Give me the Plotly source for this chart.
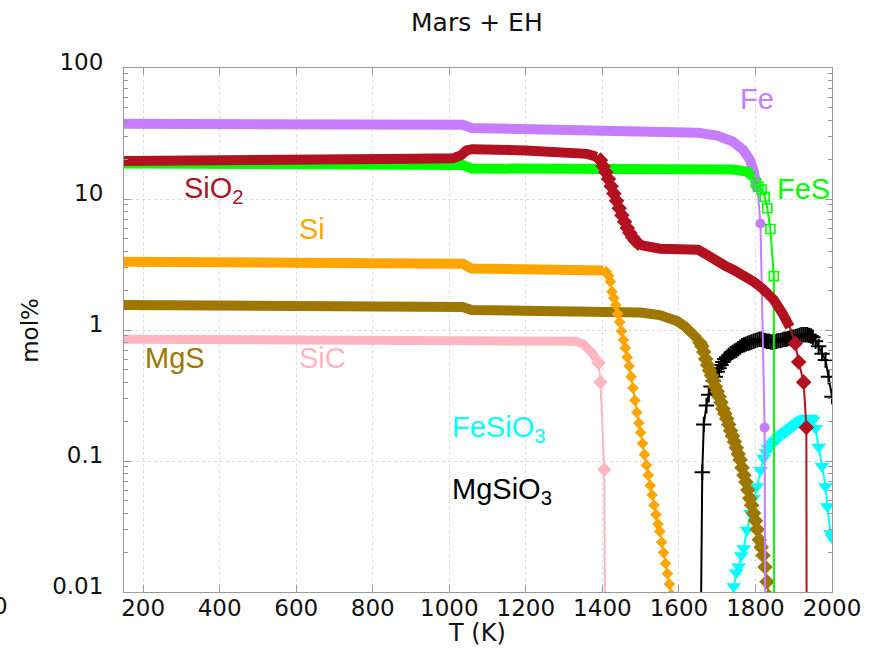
import plotly.graph_objects as go

# ---------------- data (T in K, amounts in mol%) ----------------
fe_T = [150, 890, 905, 1035, 1058, 1300, 1500, 1600, 1650, 1700, 1740, 1768, 1785, 1795, 1801, 1806, 1813, 1824, 1826]
fe_mol = [37.5, 37.5, 36.8, 36.8, 34.8, 34.2, 33.6, 32.8, 32.0, 30.5, 27.5, 23.7, 20.0, 16.5, 13.5, 11.4, 6.5, 0.18, 0.001]

fes_T = [150, 890, 905, 1035, 1058, 1300, 1500, 1600, 1700, 1740, 1778, 1792, 1801, 1808, 1816, 1824, 1831, 1839, 1848, 1849]
fes_mol = [18.7, 18.7, 18.2, 18.2, 17.1, 17.0, 16.9, 17.5, 17.3, 16.8, 16.2, 14.8, 13.3, 12.4, 11.8, 10.4, 8.5, 5.9, 2.58, 0.001]

sio2_T = [150, 890, 905, 1010, 1030, 1045, 1060, 1200, 1272, 1360, 1385,
          1395, 1402, 1409, 1416, 1423, 1430, 1437, 1444, 1451, 1458, 1465, 1472, 1479, 1486, 1493,
          1500, 1525, 1550, 1600, 1650, 1670, 1691, 1720, 1743, 1770, 1795, 1820, 1848, 1870, 1890,
          1904, 1913, 1926, 1933, 1934]
sio2_mol = [19.5, 19.5, 20.3, 20.5, 21.5, 23.5, 24.0, 23.5, 23.0, 22.1, 21.0,
            19.8, 17.8, 16.0, 14.2, 12.5, 11.0, 9.7, 8.5, 7.5, 6.7, 6.0, 5.5, 5.1, 4.8, 4.6,
            4.45, 4.3, 4.17, 4.13, 4.10, 3.8, 3.42, 3.1, 2.87, 2.6, 2.34, 2.05, 1.70, 1.35, 1.05,
            0.79, 0.57, 0.40, 0.18, 0.001]

si_T = [150, 890, 905, 1035, 1058, 1300, 1390, 1403,
        1410, 1416, 1421, 1425, 1430, 1435, 1440, 1445, 1450, 1455, 1460, 1465, 1470, 1475, 1480,
        1485, 1490, 1495, 1500, 1505, 1510, 1515, 1520, 1525, 1530, 1535, 1540, 1545, 1550, 1555,
        1560, 1565, 1570, 1575, 1580]
si_mol = [3.32, 3.32, 3.22, 3.20, 2.95, 2.93, 2.90, 2.85,
          2.79, 2.60, 2.34, 1.96, 1.75, 1.55, 1.33, 1.15, 0.98, 0.84, 0.73, 0.62, 0.53, 0.44, 0.36,
          0.29, 0.235, 0.195, 0.165, 0.136, 0.112, 0.093, 0.078, 0.065, 0.055, 0.046, 0.039, 0.033, 0.029, 0.024,
          0.020, 0.0165, 0.0138, 0.0115, 0.0096]

mgs_T = [150, 890, 905, 1035, 1058, 1400, 1450, 1500, 1550, 1575, 1595, 1615, 1630, 1640, 1650,
         1655, 1660, 1665, 1670, 1675, 1680, 1685, 1690, 1695, 1700, 1705, 1710, 1715, 1720, 1725,
         1730, 1735, 1740, 1745, 1750, 1755, 1760, 1765, 1770, 1775, 1780, 1785, 1790, 1795, 1800,
         1805, 1810, 1815, 1820, 1825, 1830, 1835]
mgs_mol = [1.55, 1.55, 1.52, 1.50, 1.42, 1.40, 1.38, 1.36, 1.30, 1.24, 1.17, 1.07, 0.98, 0.92, 0.85,
           0.80, 0.75, 0.68, 0.60, 0.54, 0.49, 0.45, 0.41, 0.37, 0.34, 0.31, 0.28, 0.25, 0.23, 0.21,
           0.19, 0.17, 0.155, 0.14, 0.126, 0.113, 0.102, 0.089, 0.078, 0.069, 0.060, 0.052, 0.046, 0.040, 0.035,
           0.030, 0.025, 0.022, 0.019, 0.0155, 0.0120, 0.0092]

sic_T = [150, 1300, 1330, 1350, 1365, 1375, 1383, 1390, 1395, 1405, 1408]
sic_mol = [0.85, 0.84, 0.82, 0.78, 0.72, 0.66, 0.60, 0.56, 0.40, 0.086, 0.001]

mgsio3_T = [1655, 1661, 1665, 1672, 1678, 1684, 1690, 1695, 1700, 1705, 1710, 1715, 1720, 1725,
            1730, 1735, 1740, 1745, 1750, 1755, 1760, 1765, 1770, 1775, 1780, 1785, 1790, 1795,
            1800, 1805, 1810, 1815, 1820, 1825, 1830, 1835, 1840, 1845, 1850, 1855, 1860, 1865,
            1870, 1875, 1880, 1885, 1890, 1895, 1900, 1905, 1910, 1915, 1920, 1925, 1930, 1935,
            1940, 1945, 1950, 1957, 1965, 1974, 1983, 1991, 2000]
mgsio3_mol = [0.001, 0.082, 0.19, 0.265, 0.32, 0.37, 0.41, 0.44, 0.48, 0.51, 0.54, 0.57, 0.60, 0.62,
              0.64, 0.66, 0.675, 0.69, 0.70, 0.72, 0.74, 0.76, 0.77, 0.78, 0.79, 0.80, 0.81, 0.82,
              0.83, 0.84, 0.85, 0.85, 0.84, 0.83, 0.82, 0.82, 0.81, 0.81, 0.81, 0.82, 0.83, 0.83,
              0.84, 0.85, 0.85, 0.86, 0.87, 0.88, 0.88, 0.89, 0.90, 0.91, 0.92, 0.92, 0.92, 0.92,
              0.91, 0.90, 0.88, 0.82, 0.75, 0.66, 0.59, 0.44, 0.31]

fesio3_T = [1737, 1743, 1750, 1756, 1763, 1769, 1778, 1787, 1795, 1804, 1813, 1821, 1828, 1834,
            1840, 1845, 1850, 1855, 1860, 1865, 1870, 1875, 1880, 1885, 1890, 1895, 1900, 1905,
            1910, 1915, 1920, 1925, 1930, 1935, 1940, 1945, 1950, 1957, 1965, 1974, 1983, 1988,
            1996, 2000]
fesio3_mol = [0.0085, 0.011, 0.0140, 0.0156, 0.019, 0.0215, 0.0297, 0.040, 0.052, 0.064, 0.085, 0.105, 0.116, 0.125,
              0.131, 0.136, 0.141, 0.145, 0.150, 0.155, 0.159, 0.163, 0.167, 0.171, 0.176, 0.181, 0.186, 0.191,
              0.195, 0.200, 0.204, 0.208, 0.211, 0.213, 0.213, 0.211, 0.205, 0.178, 0.128, 0.091, 0.064, 0.045,
              0.028, 0.026]

x_ticks = [200, 400, 600, 800, 1000, 1200, 1400, 1600, 1800, 2000]
y_ticks = [0.01, 0.1, 1, 10, 100]
y_ticktext = ["0.01", "0.1", "1", "10", "100"]

# ---------------- styles ----------------
# band: temperature intervals where the original markers are so dense they form a thick band
series = [
    dict(T=fesio3_T, y=fesio3_mol, color="#00FFFF", symbol="triangle-down", size=13, band=[]),
    dict(T=mgsio3_T, y=mgsio3_mol, color="#000000", symbol="cross-thin", size=11, band=[]),
    dict(T=sic_T, y=sic_mol, color="#FFB6C1", symbol="diamond", size=11, band=[(0, 1384)], bw=9),
    dict(T=mgs_T, y=mgs_mol, color="#9E7700", symbol="diamond", size=12, band=[(0, 1651)], bw=10),
    dict(T=si_T, y=si_mol, color="#FFA500", symbol="diamond", size=9, band=[(0, 1404)], bw=10),
    dict(T=fe_T, y=fe_mol, color="#C77DFF", symbol="circle", size=10, band=[(0, 1807)], bw=10),
    dict(T=fes_T, y=fes_mol, color="#00FF00", symbol="square-open", size=9, band=[(0, 1793)], bw=10),
    dict(T=sio2_T, y=sio2_mol, color="#B2121F", symbol="diamond", size=12,
         band=[(0, 1386), (1499, 1891)], bw=10),
]


def in_band(t, band):
    return any(lo <= t <= hi for lo, hi in band)


fig = go.Figure()
for s in series:
    if s["band"]:
        yb = [v if in_band(t, s["band"]) else None for t, v in zip(s["T"], s["y"])]
        fig.add_trace(go.Scatter(x=s["T"], y=yb, mode="lines", connectgaps=False,
                                 line=dict(color=s["color"], width=s["bw"]), hoverinfo="skip"))
    sizes = [0 if in_band(t, s["band"]) else s["size"] for t in s["T"]]
    marker = dict(symbol=s["symbol"], size=sizes, color=s["color"], opacity=1)
    if s["symbol"] == "cross-thin":
        marker["line"] = dict(color=s["color"], width=2)
    elif s["symbol"] == "square-open":
        marker["line"] = dict(color=s["color"], width=1.6)
    else:
        marker["line"] = dict(color=s["color"], width=0)
    fig.add_trace(go.Scatter(x=s["T"], y=s["y"], mode="lines+markers",
                             line=dict(color=s["color"], width=2), marker=marker))

label_font = "Liberation Sans, Arial, sans-serif"
labels = [
    ("Fe", 1755, 1.767, "#C77DFF"),
    ("FeS", 1852, 1.076, "#00FF00"),
    ("SiO<sub>2</sub>", 302, 1.069, "#B2121F"),
    ("Si", 602, 0.771, "#FFA500"),
    ("MgS", 200, -0.214, "#9E7700"),
    ("SiC", 602, -0.214, "#FFB6C1"),
    ("FeSiO<sub>3</sub>", 1002, -0.756, "#00FFFF"),
    ("MgSiO<sub>3</sub>", 1002, -1.229, "#000000"),
]
for txt, x, y, c in labels:
    fig.add_annotation(x=x, y=y, xref="x", yref="y", text=txt, showarrow=False,
                       xanchor="left", yanchor="middle",
                       font=dict(family=label_font, size=29, color=c))

tick_font = dict(family="DejaVu Sans, Verdana, sans-serif", size=23, color="#111")

fig.add_annotation(x=0.4986, y=-0.078, xref="paper", yref="paper", text="T (K)", showarrow=False,
                   xanchor="center", yanchor="middle", font=dict(tick_font, size=24))
fig.add_annotation(x=-0.133, y=0.5, xref="paper", yref="paper", text="mol%", showarrow=False,
                   textangle=-90, xanchor="center", yanchor="middle", font=tick_font)
fig.add_annotation(x=-0.161, y=-0.027, xref="paper", yref="paper", text="0", showarrow=False,
                   xanchor="right", yanchor="middle", font=tick_font)

minor_y = [m * 10 ** e for e in (-2, -1, 0, 1) for m in range(2, 10)]

fig.update_layout(
    width=875, height=653,
    margin=dict(l=124, r=43, t=68, b=61),
    paper_bgcolor="white", plot_bgcolor="white",
    showlegend=False,
    title=dict(text="Mars + EH", x=0.545, xanchor="center", y=0.966, yanchor="middle",
               xref="container", yref="container",
               font=dict(family="DejaVu Sans, Verdana, sans-serif", size=25, color="#111")),
)
fig.update_xaxes(range=[150, 2000], tickvals=x_ticks, tickfont=tick_font,
                 showline=True, linecolor="#999", linewidth=1, mirror="allticks",
                 ticks="inside", ticklen=7, tickcolor="#999", ticklabelstandoff=-5,
                 showgrid=True, gridcolor="#dcdcdc", griddash="dot", gridwidth=1, zeroline=False)
fig.update_yaxes(type="log", range=[-2, 2], tickvals=y_ticks, ticktext=y_ticktext, tickfont=tick_font,
                 showline=True, linecolor="#999", linewidth=1, mirror="allticks",
                 ticks="inside", ticklen=7, tickcolor="#999", ticklabelstandoff=15, ticklabelshift=-6,
                 showgrid=True, gridcolor="#dcdcdc", griddash="dot", gridwidth=1,
                 minor=dict(tickvals=minor_y, ticks="inside", ticklen=4, tickcolor="#999", showgrid=False))

fig.write_html("out.html", config={"displayModeBar": False},
               post_script="document.body.style.margin='0px';")
